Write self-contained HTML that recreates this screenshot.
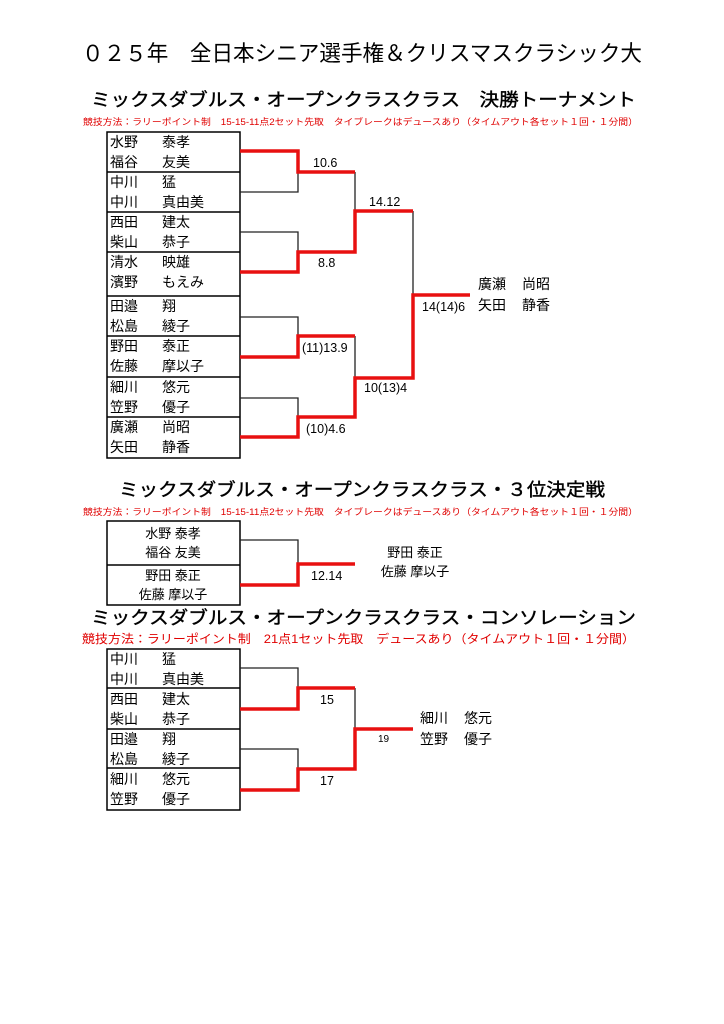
<!DOCTYPE html>
<html><head><meta charset="utf-8"><style>
html,body{margin:0;padding:0;background:#fff;}
body{width:724px;height:1024px;position:relative;overflow:hidden;font-family:"Liberation Sans","Noto Sans CJK JP",sans-serif;}
svg{position:absolute;left:0;top:0;}
text{font-family:"Liberation Sans","Noto Sans CJK JP",sans-serif;}
</style></head><body>
<svg width="724" height="1024" viewBox="0 0 724 1024">
<g fill="#000">
<text x="82" y="61" font-size="22" textLength="560" lengthAdjust="spacingAndGlyphs">０２５年　全日本シニア選手権＆クリスマスクラシック大</text>
<g stroke="#000" stroke-width="0.4">
<text x="91" y="106" font-size="18" textLength="545" lengthAdjust="spacingAndGlyphs">ミックスダブルス・オープンクラスクラス　決勝トーナメント</text>
<text x="119" y="496" font-size="18" textLength="486" lengthAdjust="spacingAndGlyphs">ミックスダブルス・オープンクラスクラス・３位決定戦</text>
<text x="91" y="624" font-size="18" textLength="545" lengthAdjust="spacingAndGlyphs">ミックスダブルス・オープンクラスクラス・コンソレーション</text>
</g>
</g>
<g fill="#e00000">
<text x="83" y="125" font-size="9" textLength="555" lengthAdjust="spacingAndGlyphs">競技方法：ラリーポイント制　15-15-11点2セット先取　タイブレークはデュースあり（タイムアウト各セット１回・１分間）</text>
<text x="83" y="515" font-size="9" textLength="555" lengthAdjust="spacingAndGlyphs">競技方法：ラリーポイント制　15-15-11点2セット先取　タイブレークはデュースあり（タイムアウト各セット１回・１分間）</text>
<text x="82" y="643" font-size="12" textLength="553" lengthAdjust="spacingAndGlyphs">競技方法：ラリーポイント制　21点1セット先取　デュースあり（タイムアウト１回・１分間）</text>
</g>
<g fill="none" stroke="#000" stroke-width="1.5">
<rect x="107" y="132" width="133" height="326"/>
<line x1="107" y1="172" x2="240" y2="172"/><line x1="107" y1="212" x2="240" y2="212"/>
<line x1="107" y1="252" x2="240" y2="252"/><line x1="107" y1="296" x2="240" y2="296"/>
<line x1="107" y1="336" x2="240" y2="336"/><line x1="107" y1="377" x2="240" y2="377"/>
<line x1="107" y1="417" x2="240" y2="417"/>
<rect x="107" y="521" width="133" height="84"/><line x1="107" y1="565" x2="240" y2="565"/>
<rect x="107" y="649" width="133" height="161"/>
<line x1="107" y1="688" x2="240" y2="688"/><line x1="107" y1="729" x2="240" y2="729"/><line x1="107" y1="768" x2="240" y2="768"/>
</g>
<g font-size="14" fill="#000">
<text x="110" y="147">水野</text><text x="162" y="147">泰孝</text>
<text x="110" y="167">福谷</text><text x="162" y="167">友美</text>
<text x="110" y="187">中川</text><text x="162" y="187">猛</text>
<text x="110" y="207">中川</text><text x="162" y="207">真由美</text>
<text x="110" y="227">西田</text><text x="162" y="227">建太</text>
<text x="110" y="247">柴山</text><text x="162" y="247">恭子</text>
<text x="110" y="267">清水</text><text x="162" y="267">映雄</text>
<text x="110" y="287">濱野</text><text x="162" y="287">もえみ</text>
<text x="110" y="311">田邉</text><text x="162" y="311">翔</text>
<text x="110" y="331">松島</text><text x="162" y="331">綾子</text>
<text x="110" y="351">野田</text><text x="162" y="351">泰正</text>
<text x="110" y="371">佐藤</text><text x="162" y="371">摩以子</text>
<text x="110" y="392">細川</text><text x="162" y="392">悠元</text>
<text x="110" y="412">笠野</text><text x="162" y="412">優子</text>
<text x="110" y="432">廣瀬</text><text x="162" y="432">尚昭</text>
<text x="110" y="452">矢田</text><text x="162" y="452">静香</text>
<text x="478" y="289">廣瀬</text><text x="522" y="289">尚昭</text>
<text x="478" y="310">矢田</text><text x="522" y="310">静香</text>
<g text-anchor="middle" font-size="13">
<text x="173" y="538">水野 泰孝</text><text x="173" y="557">福谷 友美</text>
<text x="173" y="580">野田 泰正</text><text x="173" y="599">佐藤 摩以子</text>
<text x="415" y="557">野田 泰正</text><text x="415" y="576">佐藤 摩以子</text>
</g>
<text x="110" y="664">中川</text><text x="162" y="664">猛</text>
<text x="110" y="684">中川</text><text x="162" y="684">真由美</text>
<text x="110" y="704">西田</text><text x="162" y="704">建太</text>
<text x="110" y="724">柴山</text><text x="162" y="724">恭子</text>
<text x="110" y="744">田邉</text><text x="162" y="744">翔</text>
<text x="110" y="764">松島</text><text x="162" y="764">綾子</text>
<text x="110" y="784">細川</text><text x="162" y="784">悠元</text>
<text x="110" y="804">笠野</text><text x="162" y="804">優子</text>
<text x="420" y="723">細川</text><text x="464" y="723">悠元</text>
<text x="420" y="744">笠野</text><text x="464" y="744">優子</text>
</g>
<g font-size="12.5" fill="#000">
<text x="313" y="167">10.6</text><text x="369" y="206">14.12</text><text x="318" y="267">8.8</text>
<text x="422" y="311">14(14)6</text><text x="302" y="352">(11)13.9</text><text x="364" y="392">10(13)4</text>
<text x="306" y="433">(10)4.6</text><text x="311" y="580">12.14</text>
<text x="320" y="704">15</text><text x="320" y="785">17</text>
<text x="378" y="742" font-size="10">19</text>
</g>
<g fill="none" stroke="#222" stroke-width="1.3">
<polyline points="240,192 298,192 298,172"/>
<polyline points="240,232 298,232 298,252"/>
<polyline points="240,317 298,317 298,336"/>
<polyline points="240,398 298,398 298,417"/>
<polyline points="355,172 355,211"/>
<polyline points="355,336 355,378"/>
<polyline points="413,211 413,295"/>
<polyline points="240,540 298,540 298,564"/>
<polyline points="240,668 298,668 298,688"/>
<polyline points="355,688 355,729"/>
<polyline points="240,749 298,749 298,769"/>
</g>
<g fill="none" stroke="#e81010" stroke-width="3.5">
<polyline points="240,151 298,151 298,172 355,172"/>
<polyline points="240,272 298,272 298,252 355,252 355,211 413,211"/>
<polyline points="240,357 298,357 298,336 355,336"/>
<polyline points="240,437 298,437 298,417 355,417 355,378 413,378 413,295 470,295"/>
<polyline points="240,585 298,585 298,564 355,564"/>
<polyline points="240,709 298,709 298,688 355,688"/>
<polyline points="240,790 298,790 298,769 355,769 355,729 413,729"/>
</g>
</svg>
</body></html>
